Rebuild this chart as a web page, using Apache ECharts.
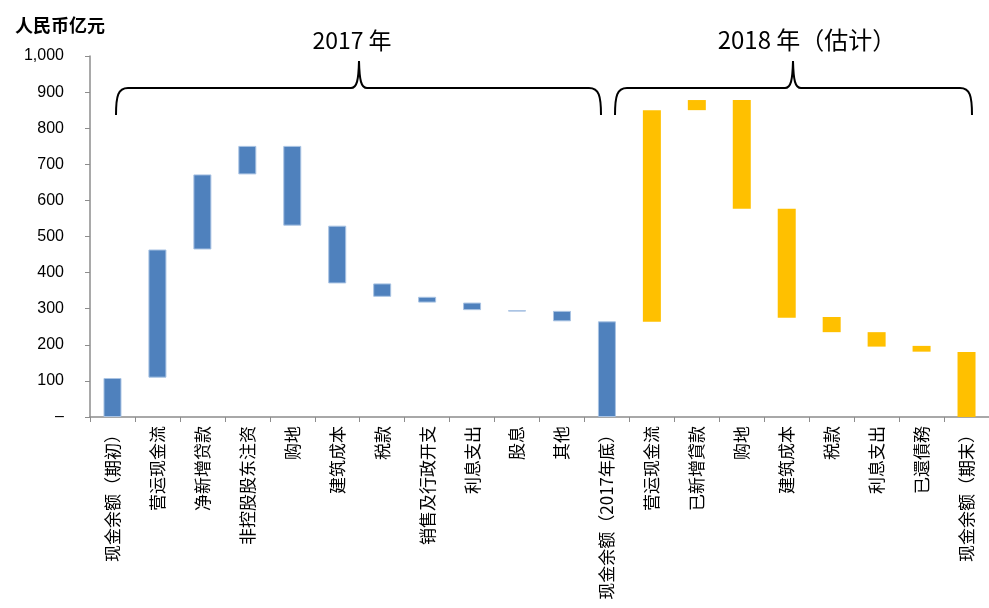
<!DOCTYPE html>
<html>
<head>
<meta charset="utf-8">
<script src="https://cdn.jsdelivr.net/npm/echarts@6/dist/echarts.min.js"></script>
<style>html,body{margin:0;padding:0;background:#fff;}#c{width:989px;height:608px;}</style>
</head>
<body>
<div id="c"></div>
<script>
// Categories (x-axis)
const categories = [
  '现金余额（期初）','营运现金流','净新增贷款','非控股股东注资','购地','建筑成本','税款',
  '销售及行政开支','利息支出','股息','其他','现金余额（2017年底）',
  '营运现金流','已新增貸款','购地','建筑成本','税款','利息支出','已還債務','现金余额（期末）'
];
// Period of each bar: 2017 or 2018 (estimate)
const periods = [2017,2017,2017,2017,2017,2017,2017,2017,2017,2017,2017,2017,
                 2018,2018,2018,2018,2018,2018,2018,2018];
// Waterfall bar bottoms and tops (RMB 100m)
const barLow  = [0,109,464,672,530,370,333,317,296,292,265,0,
                 264,850,577,275,235,195,181,0];
const barHigh = [108,464,672,751,751,530,370,333,317,296,294,265,
                 850,878,878,577,277,235,197,180];
// Y-axis tick labels
const yTicks = {0:'–',100:'100',200:'200',300:'300',400:'400',500:'500',600:'600',700:'700',800:'800',900:'900',1000:'1,000'};
const periodTitles = ['2017 年','2018 年（估计）'];

const chart = echarts.init(document.getElementById('c'));
const cjk = '"Noto Sans CJK SC", "Liberation Sans", sans-serif';

const visible = barHigh.map((h, i) => {
  const blue = periods[i] === 2017;
  return {
    value: h - barLow[i],
    itemStyle: blue
      ? {color: '#4F81BD', borderColor: '#A9C3E3', borderWidth: 1}
      : {color: '#FFC000', borderWidth: 0}
  };
});

const braceStyle = {stroke: '#000', lineWidth: 2, fill: null};
function brace(x1, xm, x2) {
  const top = 88, bot = 115, peak = 61;
  const bz = (a, b, c1, c2) => ({type: 'bezierCurve', style: braceStyle,
    shape: {x1: a[0], y1: a[1], x2: b[0], y2: b[1], cpx1: c1[0], cpy1: c1[1], cpx2: c2[0], cpy2: c2[1]}});
  const ln = (a, b) => ({type: 'line', style: braceStyle, shape: {x1: a[0], y1: a[1], x2: b[0], y2: b[1]}});
  return [
    bz([x1, bot], [x1 + 12, top], [x1, 96], [x1 + 2, top]),
    ln([x1 + 12, top], [xm - 8, top]),
    bz([xm - 8, top], [xm, peak], [xm - 2, top], [xm - 0.5, 80]),
    bz([xm, peak], [xm + 8, top], [xm + 0.5, 80], [xm + 2, top]),
    ln([xm + 8, top], [x2 - 12, top]),
    bz([x2 - 12, top], [x2, bot], [x2 - 2, top], [x2, 96])
  ];
}

chart.setOption({
  backgroundColor: '#fff',
  animation: false,
  title: {
    text: '人民币亿元', left: 10, top: 11,
    textStyle: {fontFamily: cjk, fontSize: 18, fontWeight: 'bold', color: '#000'}
  },
  grid: {left: 90, right: 0, top: 56, bottom: 191, containLabel: false},
  xAxis: {
    type: 'category',
    data: categories,
    axisLine: {lineStyle: {color: '#8C8C8C', width: 1.5}},
    axisTick: {show: true, length: 5, interval: 0, lineStyle: {color: '#8C8C8C'}},
    axisLabel: {
      interval: 0, rotate: 90, margin: 9,
      fontFamily: cjk, fontSize: 17, color: '#000'
    }
  },
  yAxis: {
    type: 'value', min: 0, max: 1000, interval: 100,
    splitLine: {show: false},
    axisLine: {show: true, lineStyle: {color: '#8C8C8C', width: 1.5}},
    axisTick: {show: true, length: 5, lineStyle: {color: '#8C8C8C'}},
    axisLabel: {
      margin: 26, fontFamily: '"Liberation Sans", Arial, sans-serif', fontSize: 16, color: '#000',
      formatter: v => yTicks[v] !== undefined ? yTicks[v] : ''
    }
  },
  series: [
    {
      type: 'bar', stack: 'w', barWidth: 18, silent: true,
      itemStyle: {color: 'transparent'},
      data: barLow
    },
    {
      type: 'bar', stack: 'w', barWidth: 18,
      data: visible
    }
  ],
  graphic: [
    ...brace(116, 359, 601),
    ...brace(615, 793, 972),
    {type: 'text', x: 352, y: 40,
     style: {text: periodTitles[0], fontFamily: cjk, fontSize: 23, fill: '#000', textAlign: 'center', textVerticalAlign: 'middle'}},
    {type: 'text', x: 807, y: 40,
     style: {text: periodTitles[1], fontFamily: cjk, fontSize: 24, fill: '#000', textAlign: 'center', textVerticalAlign: 'middle'}}
  ]
});
</script>
</body>
</html>
